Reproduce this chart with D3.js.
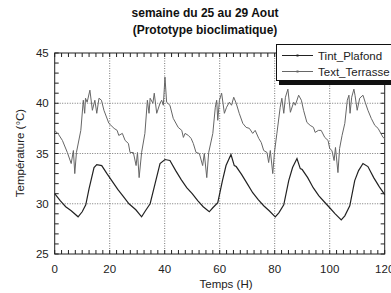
<!DOCTYPE html>
<html>
<head>
<meta charset="utf-8">
<script src="https://cdn.jsdelivr.net/npm/d3@7"></script>
<style>
  body { margin: 0; background: #fff; }
  text { font-family: Arial, "Liberation Sans", sans-serif; }
</style>
</head>
<body>
<div id="vis"></div>
<script>
// data (time in hours, temperature in °C)
let tintT = [0, 2, 4, 6, 8.5, 10, 11.3, 12.5, 14.3, 15.3, 17.1, 19, 21, 23, 25, 27, 29.5, 31.6, 33, 34.7, 36.5, 38.3, 40.1, 41.9, 44, 46, 48, 50, 52, 54, 56.2, 57.5, 59.3, 61, 62.3, 64.1, 65.3, 66, 68, 70, 72, 74, 76, 78, 80.2, 81.5, 83.3, 85.1, 86.5, 88.1, 89.3, 90, 92, 94, 96, 98, 100, 102, 104.2, 105.5, 107.3, 109.1, 110.5, 112.1, 113.9, 116, 118, 120];
let tintV = [31.0, 30.3, 29.7, 29.3, 28.7, 29.2, 29.9, 31.5, 33.6, 33.9, 33.8, 33.0, 32.2, 31.4, 30.7, 30.0, 29.4, 28.7, 29.3, 30.0, 32.0, 34.0, 34.4, 34.3, 33.3, 32.4, 31.6, 31.0, 30.3, 29.7, 29.2, 29.6, 30.1, 32.3, 33.8, 34.9, 33.8, 33.7, 32.9, 32.0, 31.1, 30.4, 29.8, 29.3, 28.7, 29.1, 29.9, 32.3, 33.6, 34.5, 33.5, 33.4, 32.6, 31.6, 30.8, 30.2, 29.6, 29.0, 28.4, 28.8, 29.8, 32.3, 33.3, 34.0, 33.7, 32.6, 31.7, 30.9];

let textT = [0, 1.4, 2.8, 4.6, 6.0, 6.8, 7.3, 7.9, 9.5, 10.4, 10.9, 11.2, 11.8, 12.8, 13.7, 14.6, 15.3, 16.1, 17.0, 17.9, 19.7, 21.6, 22.7, 23.3, 24.6, 25.6, 26.8, 27.4, 28.6, 29.6, 30.1, 30.7, 31.6, 32.8, 33.7, 34.3, 34.7, 35.7, 36.2, 37.1, 38.3, 38.9, 39.5, 40.1, 40.7, 41.9, 43.1, 44.9, 46.2, 46.8, 47.4, 48.6, 49.6, 50.4, 51.4, 52.6, 53.8, 54.4, 55.3, 56.0, 57.5, 58.4, 58.9, 59.3, 59.9, 60.7, 61.7, 62.5, 63.5, 64.3, 65.1, 66.0, 67.1, 68.4, 69.6, 70.8, 72.0, 72.9, 74.2, 75.1, 76.0, 77.2, 77.8, 78.4, 79.3, 79.9, 80.8, 82.0, 82.6, 83.3, 83.9, 84.8, 85.7, 86.9, 87.5, 88.7, 89.7, 90.5, 91.7, 92.9, 94.1, 94.7, 95.9, 96.9, 98.2, 99.4, 100.0, 100.8, 101.6, 102.1, 103.0, 103.6, 104.5, 105.5, 106.4, 107.0, 107.4, 108.0, 108.8, 109.2, 110.0, 110.9, 112.1, 112.9, 113.9, 115.1, 116.4, 117.6, 118.6, 119.4, 120];
let textV = [37.3, 36.9, 36.3, 35.1, 34.0, 35.3, 33.0, 35.1, 37.3, 40.3, 39.0, 40.5, 40.1, 41.3, 39.3, 40.3, 39.0, 40.5, 40.3, 39.3, 38.0, 37.5, 37.3, 36.8, 37.0, 36.3, 36.0, 35.1, 35.1, 33.8, 35.1, 32.6, 35.1, 37.0, 40.3, 39.0, 40.5, 40.0, 41.0, 39.0, 40.0, 40.3, 39.8, 42.6, 40.1, 39.8, 38.5, 37.6, 37.3, 36.6, 37.0, 36.8, 36.5, 36.0, 35.1, 35.0, 33.8, 35.0, 32.6, 35.1, 37.0, 39.6, 40.3, 38.3, 40.3, 41.0, 39.0, 39.6, 40.1, 39.8, 40.6, 40.0, 39.0, 38.0, 37.6, 37.5, 37.0, 37.3, 36.5, 36.1, 35.3, 35.1, 34.1, 35.3, 33.0, 35.1, 37.0, 39.6, 40.5, 39.0, 40.6, 41.4, 39.1, 40.1, 39.8, 40.8, 40.3, 39.3, 38.1, 37.8, 37.6, 37.1, 37.3, 37.3, 36.6, 36.3, 35.5, 35.3, 34.3, 35.6, 33.1, 35.5, 36.8, 38.0, 40.3, 40.8, 39.0, 40.6, 41.4, 40.8, 39.3, 40.5, 40.8, 40.1, 39.3, 38.5, 37.8, 37.5, 37.0, 36.6, 36.5];

let xTicks = [0, 20, 40, 60, 80, 100, 120];
let yTicks = [25, 30, 35, 40, 45];
let seriesNames = ['Tint_Plafond', 'Text_Terrasse'];

let W = 391, H = 293;
let margin = {top: 53, left: 54.7, right: 6.3, bottom: 39};

let svg = d3.select('#vis')
.append('svg')
.attr('width', W)
.attr('height', H)
.style('background-color', 'white')

let x = d3.scaleLinear().domain([0, 120]).range([margin.left, W - margin.right]);
let y = d3.scaleLinear().domain([25, 45]).range([H - margin.bottom, margin.top]);

// dotted grid
svg.append('g').selectAll('line')
.data(xTicks.slice(1, -1))
.join('line')
.attr('x1', d => x(d)).attr('x2', d => x(d))
.attr('y1', y(25)).attr('y2', y(45))
.attr('stroke', '#777')
.attr('stroke-dasharray', '1,1.5')
svg.append('g').selectAll('line')
.data(yTicks.slice(1, -1))
.join('line')
.attr('x1', x(0)).attr('x2', x(120))
.attr('y1', d => y(d)).attr('y2', d => y(d))
.attr('stroke', '#777')
.attr('stroke-dasharray', '1,1.5')

// minor ticks, inward on all four sides
let xMinor = d3.range(0, 120.01, 2.5);
let yMinor = d3.range(25, 45.01, 1);
let ticks = svg.append('g').attr('stroke', '#222').attr('stroke-width', 1);
ticks.selectAll('.tb').data(xMinor).join('line')
.attr('x1', d => x(d)).attr('x2', d => x(d))
.attr('y1', y(25)).attr('y2', y(25) - 4)
ticks.selectAll('.tt').data(xMinor).join('line')
.attr('x1', d => x(d)).attr('x2', d => x(d))
.attr('y1', y(45)).attr('y2', y(45) + 4)
ticks.selectAll('.tl').data(yMinor).join('line')
.attr('x1', x(0)).attr('x2', x(0) + 4)
.attr('y1', d => y(d)).attr('y2', d => y(d))
ticks.selectAll('.tr').data(yMinor).join('line')
.attr('x1', x(120)).attr('x2', x(120) - 4)
.attr('y1', d => y(d)).attr('y2', d => y(d))

// frame
svg.append('rect')
.attr('x', x(0)).attr('y', y(45))
.attr('width', x(120) - x(0)).attr('height', y(25) - y(45))
.attr('fill', 'none')
.attr('stroke', '#222')

// tick labels
svg.append('g').selectAll('text')
.data(xTicks).join('text')
.attr('x', d => x(d)).attr('y', y(25) + 19)
.attr('text-anchor', 'middle')
.attr('font-size', 11.5)
.attr('fill', '#222')
.text(d => d)
svg.append('g').selectAll('text')
.data(yTicks).join('text')
.attr('x', x(0) - 6).attr('y', d => y(d) + 4)
.attr('text-anchor', 'end')
.attr('font-size', 11.5)
.attr('fill', '#222')
.text(d => d)

// lines
let line = d3.line().x(d => x(d[0])).y(d => y(d[1]));
svg.append('path')
.datum(textT.map((t, i) => [t, textV[i]]))
.attr('d', line)
.attr('fill', 'none')
.attr('stroke', '#666')
.attr('stroke-width', 1)
svg.append('path')
.datum(tintT.map((t, i) => [t, tintV[i]]))
.attr('d', line)
.attr('fill', 'none')
.attr('stroke', '#222')
.attr('stroke-width', 1.2)

// titles
svg.append('text')
.attr('x', 205).attr('y', 17)
.attr('text-anchor', 'middle')
.attr('font-size', 12).attr('font-weight', 'bold')
.attr('fill', '#111')
.text('semaine du 25 au 29 Aout')
svg.append('text')
.attr('x', 205).attr('y', 34)
.attr('text-anchor', 'middle')
.attr('font-size', 12).attr('font-weight', 'bold')
.attr('fill', '#111')
.text('(Prototype bioclimatique)')
svg.append('text')
.attr('x', 226).attr('y', 288)
.attr('text-anchor', 'middle')
.attr('font-size', 11.5)
.attr('fill', '#222')
.text('Temps (H)')
svg.append('text')
.attr('transform', 'translate(24,153) rotate(-90)')
.attr('text-anchor', 'middle')
.attr('font-size', 11.5)
.attr('fill', '#222')
.text('Température (°C)')

// legend
let leg = svg.append('g');
leg.append('rect')
.attr('x', 279).attr('y', 47).attr('width', 120).attr('height', 38)
.attr('fill', '#111')
leg.append('rect')
.attr('x', 276.5).attr('y', 44.5).attr('width', 120).attr('height', 36)
.attr('fill', 'white').attr('stroke', '#111')
let legColors = ['#222', '#666'];
seriesNames.forEach((name, i) => {
  let ly = 55.5 + i * 16;
  leg.append('line')
  .attr('x1', 282).attr('x2', 313).attr('y1', ly).attr('y2', ly)
  .attr('stroke', legColors[i])
  leg.append('rect')
  .attr('x', 296.5).attr('y', ly - 1).attr('width', 2).attr('height', 2)
  .attr('fill', legColors[i])
  leg.append('text')
  .attr('x', 318).attr('y', ly + 4)
  .attr('font-size', 11.5)
  .attr('fill', '#222')
  .text(name)
});
</script>
</body>
</html>
